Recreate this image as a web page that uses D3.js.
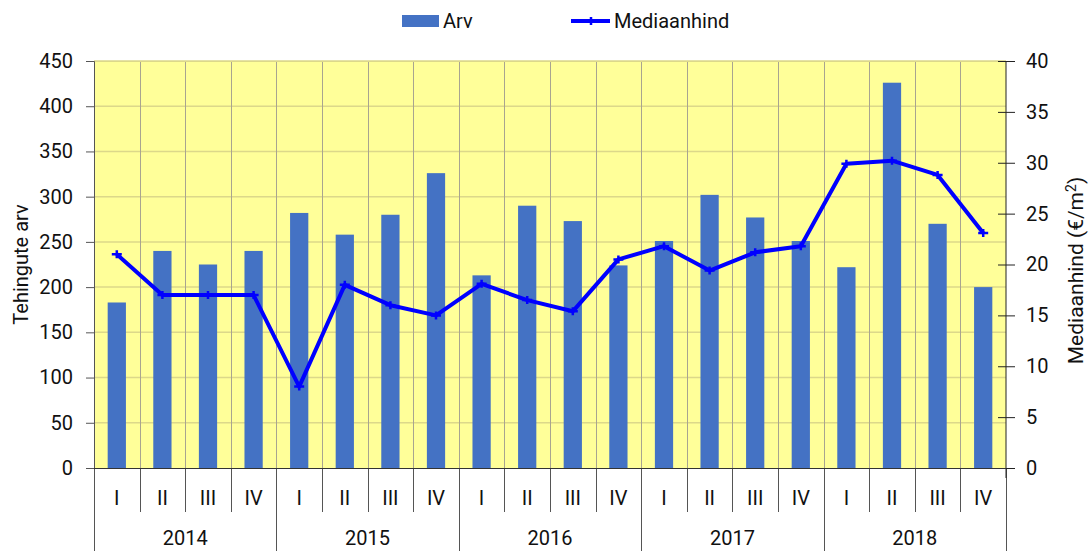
<!DOCTYPE html>
<html>
<head>
<meta charset="utf-8">
<script src="https://cdn.jsdelivr.net/npm/d3@7"></script>
<style>
  body { margin: 0; background: #fff; }
  text { font-family: Roboto, "Liberation Sans", sans-serif; fill: #111; }
</style>
</head>
<body>
<svg id="chart" width="1090" height="551"></svg>
<script>
const years = ["2014", "2015", "2016", "2017", "2018"];
const quarters = ["I", "II", "III", "IV"];
const arv = [183, 240, 225, 240, 282, 258, 280, 326, 213, 290, 273, 224, 251, 302, 277, 251, 222, 426, 270, 200];
const median = [21, 17, 17, 17, 8, 18, 16, 15, 18.1, 16.5, 15.4, 20.5, 21.8, 19.4, 21.2, 21.8, 29.9, 30.2, 28.8, 23.1];
const leftTicks = [0, 50, 100, 150, 200, 250, 300, 350, 400, 450];
const rightTicks = [0, 5, 10, 15, 20, 25, 30, 35, 40];

const margin = { top: 61, right: 84, bottom: 83, left: 94 };
const W = 1090, H = 551;
const width = W - margin.left - margin.right;
const height = H - margin.top - margin.bottom;

const cats = [];
years.forEach(y => quarters.forEach(q => cats.push(y + "-" + q)));

const svg = d3.select("#chart");
const g = svg.append("g").attr("transform", `translate(${margin.left},${margin.top})`);

const x = d3.scaleBand().domain(cats).range([0, width]).padding(0);
const yL = d3.scaleLinear().domain([0, 450]).range([height, 0]);
const yR = d3.scaleLinear().domain([0, 40]).range([height, 0]);

// plot background
g.append("rect").attr("width", width).attr("height", height).attr("fill", "#ffff99");

// horizontal grid
g.append("g").selectAll("line").data(leftTicks.slice(1)).enter().append("line")
  .attr("x1", 0).attr("x2", width)
  .attr("y1", d => yL(d)).attr("y2", d => yL(d))
  .attr("stroke", "#dcd88a").attr("stroke-width", 1.5);

// vertical grid + category separators
cats.forEach((c, i) => {
  if (i === 0) return;
  const xx = Math.round(x(c)) + 0.5;
  const isYear = i % 4 === 0;
  g.append("line").attr("x1", xx).attr("x2", xx).attr("y1", 0).attr("y2", height)
    .attr("stroke", "#a8a490").attr("stroke-width", 1);
  g.append("line").attr("x1", xx).attr("x2", xx).attr("y1", height)
    .attr("y2", isYear ? H - margin.top : height + 44)
    .attr("stroke", "#555").attr("stroke-width", 1);
});
[0, width].forEach(xx => {
  g.append("line").attr("x1", xx + 0.5).attr("x2", xx + 0.5).attr("y1", height).attr("y2", H - margin.top)
    .attr("stroke", "#555").attr("stroke-width", 1);
});

// bars
const bw = x.bandwidth() * 0.4;
g.append("g").selectAll("rect").data(arv).enter().append("rect")
  .attr("x", (d, i) => x(cats[i]) + (x.bandwidth() - bw) / 2)
  .attr("width", bw)
  .attr("y", d => yL(d))
  .attr("height", d => height - yL(d))
  .attr("fill", "#4472c4");

// top border
g.append("line").attr("x1", 0).attr("x2", width).attr("y1", 0.5).attr("y2", 0.5)
  .attr("stroke", "#dcd88a").attr("stroke-width", 1);

// left axis
const axL = g.append("g").call(d3.axisLeft(yL).tickValues(leftTicks).tickSize(8).tickPadding(13));
axL.select(".domain").attr("stroke", "#555");
axL.selectAll(".tick line").attr("stroke", "#555");
axL.selectAll("text").style("font-size", "20px").attr("fill", "#111");

// right axis
const axR = g.append("g").attr("transform", `translate(${width},0)`)
  .call(d3.axisRight(yR).tickValues(rightTicks).tickSize(9).tickPadding(11));
axR.select(".domain").attr("stroke", "#222").attr("d", `M0,0V${height + 10}`);
axR.selectAll(".tick line").attr("stroke", "#222").attr("x1", -8);
axR.selectAll("text").style("font-size", "20px").attr("fill", "#111");

// bottom axis line
g.append("line").attr("x1", 0).attr("x2", width).attr("y1", height + 0.5).attr("y2", height + 0.5)
  .attr("stroke", "#333").attr("stroke-width", 1.2);

// quarter labels
g.append("g").selectAll("text").data(cats).enter().append("text")
  .attr("x", d => x(d) + x.bandwidth() / 2)
  .attr("y", height + 37)
  .attr("text-anchor", "middle")
  .style("font-size", "20px")
  .text(d => d.split("-")[1]);

// year labels
g.append("g").selectAll("text").data(years).enter().append("text")
  .attr("x", d => (x(d + "-I") + x(d + "-IV") + x.bandwidth()) / 2)
  .attr("y", height + 77)
  .attr("text-anchor", "middle")
  .style("font-size", "20px")
  .text(d => d);

// line series
const line = d3.line().x((d, i) => x(cats[i]) + x.bandwidth() / 2).y(d => yR(d));
g.append("path").datum(median).attr("d", line)
  .attr("fill", "none").attr("stroke", "#0000ff").attr("stroke-width", 4).attr("stroke-linejoin", "round");
g.append("g").selectAll("path").data(median).enter().append("path")
  .attr("transform", (d, i) => `translate(${x(cats[i]) + x.bandwidth() / 2},${yR(d)})`)
  .attr("d", "M-5,0H5M0,-4V4")
  .attr("stroke", "#0000ff").attr("stroke-width", 2.5);

// axis titles
svg.append("text")
  .attr("transform", `translate(28,${margin.top + height / 2}) rotate(-90)`)
  .attr("text-anchor", "middle")
  .style("font-size", "20px")
  .text("Tehingute arv");

const rt = svg.append("text")
  .attr("transform", `translate(1083,${margin.top + height / 2 + 6}) rotate(-90)`)
  .attr("text-anchor", "middle")
  .style("font-size", "21px");
rt.append("tspan").text("Mediaanhind (€/m");
rt.append("tspan").attr("dy", -7).style("font-size", "14px").text("2");
rt.append("tspan").attr("dy", 7).text(")");

// legend
const lg = svg.append("g");
lg.append("rect").attr("x", 402).attr("y", 15).attr("width", 37).attr("height", 12).attr("fill", "#4472c4");
lg.append("text").attr("x", 443).attr("y", 28).style("font-size", "20px").text("Arv");
lg.append("line").attr("x1", 571).attr("x2", 610).attr("y1", 21).attr("y2", 21)
  .attr("stroke", "#0000ff").attr("stroke-width", 4);
lg.append("path").attr("d", "M585,21H597M591,17V25").attr("stroke", "#0000ff").attr("stroke-width", 2.5);
lg.append("text").attr("x", 614).attr("y", 28).style("font-size", "20px").text("Mediaanhind");
</script>
</body>
</html>
